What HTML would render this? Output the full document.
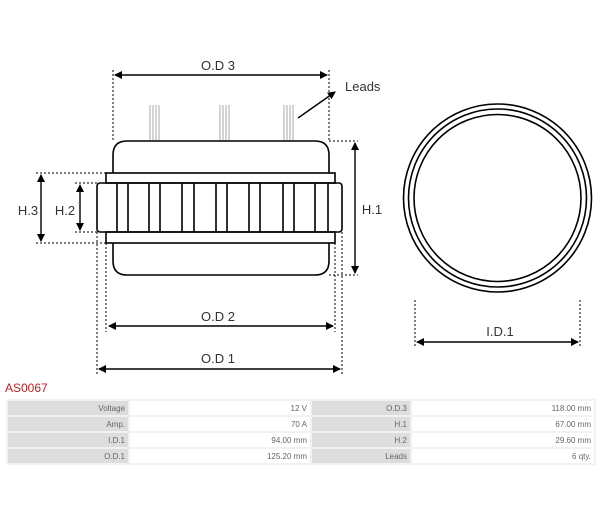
<!DOCTYPE html>
<html><head><meta charset="utf-8"><style>
body{margin:0;background:#fff;width:600px;height:526px;overflow:hidden;font-family:"Liberation Sans",sans-serif;position:relative}
svg{position:absolute;left:0;top:0}
.t{position:absolute;left:6px;top:399px;border-collapse:separate;border-spacing:2px;background:#f2f2f2;width:590px;font-size:8px;color:#666;z-index:1}
.t td{height:14px;padding:0 3px;text-align:right}
.l{background:#ddd}.v{background:#fff}
</style></head><body>
<svg width="600" height="526" viewBox="0 0 600 526" font-family="Liberation Sans, sans-serif" font-size="13" fill="none" stroke="#000">
<defs><marker id="a" markerWidth="8" markerHeight="8" refX="7" refY="4" orient="auto-start-reverse" markerUnits="userSpaceOnUse"><path d="M0,0L8,4L0,8z" fill="#000" stroke="none"/></marker></defs>
<g stroke="#aaa" stroke-width="1">
<path d="M150,105V141M153,105V141M156,105V141M159,105V141"/>
<path d="M220,105V141M223,105V141M226,105V141M229,105V141"/>
<path d="M284,105V141M287,105V141M290,105V141M293,105V141"/>
</g>
<g stroke-width="1.6">
<path d="M113,173V155Q113,141 127,141H315Q329,141 329,155V173"/>
<path d="M113,243V261Q113,275 127,275H315Q329,275 329,261V243"/>
<rect x="106" y="173" width="229" height="10"/>
<rect x="106" y="232" width="229" height="11"/>
<rect x="97" y="183" width="245" height="49" rx="3"/>
<path d="M117,183V232M128,183V232M149,183V232M160,183V232M182,183V232M194,183V232M216,183V232M227,183V232M249,183V232M260,183V232M283,183V232M294,183V232M315,183V232M328,183V232"/>
</g>
<g stroke-width="1" stroke-dasharray="2,2">
<path d="M113,70V141M329,70V141M329,141H358M329,275H358M36,173H106M36,243H106M75,183H97M75,232H97M106,243V332M335,243V332M97,232V374M342,232V374M415,300V347M580,300V347"/>
</g>
<g stroke-width="1.4">
<path d="M115,75H327" marker-start="url(#a)" marker-end="url(#a)"/>
<path d="M298,118L335,92" marker-end="url(#a)"/>
<path d="M355,143V273" marker-start="url(#a)" marker-end="url(#a)"/>
<path d="M41,175V241" marker-start="url(#a)" marker-end="url(#a)"/>
<path d="M80,185V230" marker-start="url(#a)" marker-end="url(#a)"/>
<path d="M109,326H333" marker-start="url(#a)" marker-end="url(#a)"/>
<path d="M99,369H340" marker-start="url(#a)" marker-end="url(#a)"/>
<path d="M417,342H578" marker-start="url(#a)" marker-end="url(#a)"/>
</g>
<g stroke-width="1.6">
<circle cx="497.5" cy="198" r="94"/><circle cx="497.5" cy="198" r="89"/><circle cx="497.5" cy="198" r="83.5"/>
</g>
<g fill="#333" stroke="none">
<text x="218" y="70" text-anchor="middle">O.D 3</text>
<text x="345" y="91">Leads</text>
<text x="372" y="214" text-anchor="middle">H.1</text>
<text x="28" y="215" text-anchor="middle">H.3</text>
<text x="65" y="215" text-anchor="middle">H.2</text>
<text x="218" y="321" text-anchor="middle">O.D 2</text>
<text x="218" y="363" text-anchor="middle">O.D 1</text>
<text x="500" y="336" text-anchor="middle">I.D.1</text>
<text x="5" y="392" fill="#b22" font-size="12">AS0067</text>
</g>
</svg>
<table class="t">
<tr><td class="l" style="width:114px">Voltage</td><td class="v" style="width:174px">12 V</td><td class="l" style="width:92px">O.D.3</td><td class="v">118.00 mm</td></tr>
<tr><td class="l">Amp.</td><td class="v">70 A</td><td class="l">H.1</td><td class="v">67.00 mm</td></tr>
<tr><td class="l">I.D.1</td><td class="v">94.00 mm</td><td class="l">H.2</td><td class="v">29.60 mm</td></tr>
<tr><td class="l">O.D.1</td><td class="v">125.20 mm</td><td class="l">Leads</td><td class="v">6 qty.</td></tr>
</table>
</body></html>
